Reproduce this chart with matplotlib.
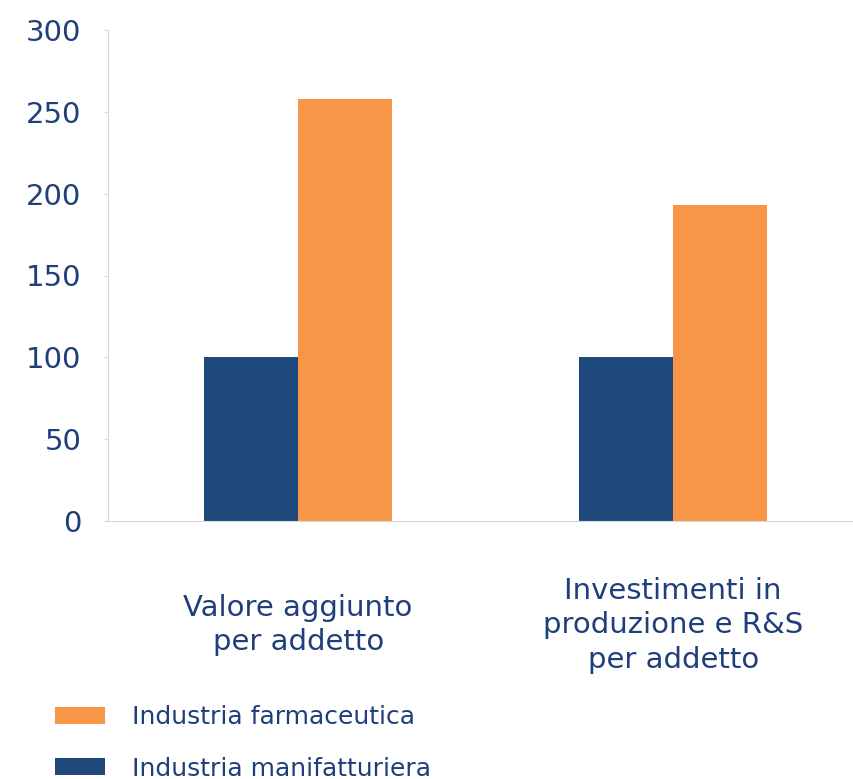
import matplotlib
matplotlib.use("Agg")
import matplotlib.pyplot as plt
import numpy as np
from matplotlib.patches import Patch

# data (index, manufacturing = 100)
categories = ["Valore aggiunto\nper addetto",
              "Investimenti in\nproduzione e R&S\nper addetto"]
manifatturiera = [100, 100]
farmaceutica = [258, 193]
series_names = ["Industria farmaceutica", "Industria manifatturiera"]
yticks = [0, 50, 100, 150, 200, 250, 300]

BLUE = "#1F497D"
ORANGE = "#F79646"
TEXT = "#1F3F7A"
GRID = "#D9D9D9"

plt.rcParams["font.family"] = ["DejaVu Sans"]

fig = plt.figure(figsize=(8.54, 7.79), dpi=100)
ax = fig.add_axes([108 / 854, 1 - 521 / 779, 746 / 854, (521 - 30) / 779])

x = np.arange(len(categories))
w = 0.25
ax.bar(x - w / 2, manifatturiera, width=w, color=BLUE, linewidth=0)
ax.bar(x + w / 2, farmaceutica, width=w, color=ORANGE, linewidth=0)

ax.set_ylim(0, 300)
ax.set_xlim(-0.507, 1.482)
ax.set_yticks(yticks)
ax.set_yticklabels([str(v) for v in yticks], fontsize=21, color=TEXT)
ax.tick_params(axis="y", length=3, color=GRID, pad=16)

ax.set_xticks(x)
ax.set_xticklabels(categories, fontsize=21, color=TEXT, linespacing=1.3)
ax.tick_params(axis="x", length=0, pad=75)
for lab in ax.get_xticklabels():
    lab.set_verticalalignment("center")

for side in ("top", "right"):
    ax.spines[side].set_visible(False)
ax.spines["left"].set_color(GRID)
ax.spines["bottom"].set_color(GRID)

handles = [Patch(facecolor=ORANGE, edgecolor="none"),
           Patch(facecolor=BLUE, edgecolor="none")]
leg = fig.legend(handles, series_names, loc="upper left",
                 bbox_to_anchor=(55 / 854, 1 - 705 / 779), frameon=False,
                 fontsize=18, borderpad=0, borderaxespad=0,
                 handlelength=2.0, handleheight=0.65, handletextpad=1.1,
                 labelspacing=1.1)
for t in leg.get_texts():
    t.set_color(TEXT)

fig.savefig("out.png", dpi=100, facecolor="white")
